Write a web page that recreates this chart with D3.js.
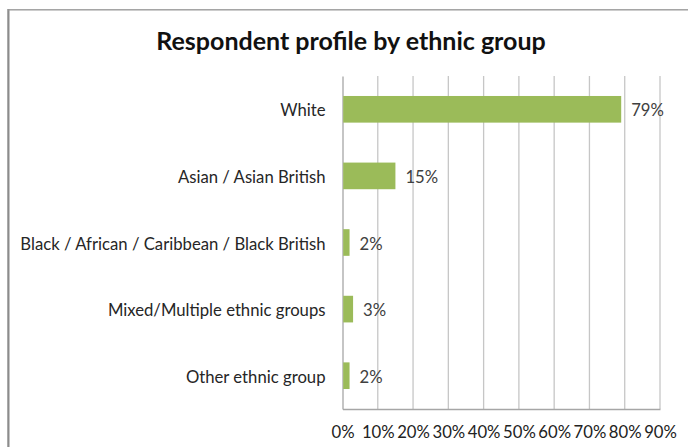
<!DOCTYPE html>
<html>
<head>
<meta charset="utf-8">
<script src="https://cdn.jsdelivr.net/npm/d3@7"></script>
<style>
  html, body { margin: 0; padding: 0; background: #fff; }
  svg { display: block; font-family: Lato, "Open Sans", sans-serif; }
</style>
</head>
<body>
<svg id="chart" width="688" height="447"></svg>
<script>
// Respondent profile by ethnic group (share of respondents, %)
const categories = [
  "White",
  "Asian / Asian British",
  "Black / African / Caribbean / Black British",
  "Mixed/Multiple ethnic groups",
  "Other ethnic group"
];
const values = [79, 15, 2, 3, 2];
const tickValues = [0, 10, 20, 30, 40, 50, 60, 70, 80, 90];
const title = "Respondent profile by ethnic group";

const svg = d3.select("#chart");
const W = 688, H = 447;
const plot = { left: 342.5, right: 660, top: 76, bottom: 409 };
const labelSize = 16.7;

// chart frame
svg.append("rect").attr("x", 7.5).attr("y", 9.5).attr("width", W + 10).attr("height", H + 10)
  .attr("fill", "#fff").attr("stroke", "#c8c8c8").attr("stroke-width", 1);
svg.append("line").attr("x1", 8.5).attr("x2", 8.5).attr("y1", 9).attr("y2", H)
  .attr("stroke", "#8c8c8c").attr("stroke-width", 2);
svg.append("line").attr("x1", 8).attr("x2", W).attr("y1", 9.8).attr("y2", 9.8)
  .attr("stroke", "#9a9a9a").attr("stroke-width", 1.2);

svg.append("text")
  .attr("x", 351).attr("y", 50)
  .attr("text-anchor", "middle")
  .attr("font-size", 25).attr("font-weight", "bold").attr("fill", "#111")
  .text(title);

const x = d3.scaleLinear().domain([0, 90]).range([plot.left, plot.right]);
const y = d3.scaleBand().domain(categories).range([plot.top, plot.bottom]).paddingInner(0.6).paddingOuter(0.3);

// vertical gridlines
svg.append("g")
  .selectAll("line").data(tickValues.slice(1)).join("line")
  .attr("x1", d => x(d)).attr("x2", d => x(d))
  .attr("y1", plot.top).attr("y2", plot.bottom)
  .attr("stroke", "#c6c6c6").attr("stroke-width", 1.3);

// x axis
const xAxis = svg.append("g")
  .attr("transform", `translate(0,${plot.bottom})`)
  .call(d3.axisBottom(x).tickValues(tickValues).tickFormat(d => d + "%").tickSize(0).tickPadding(17));
xAxis.select(".domain").attr("stroke", "#a6a6a6").attr("stroke-width", 1.3);
xAxis.selectAll("text").attr("font-size", labelSize).attr("fill", "#222").attr("font-family", "Lato, sans-serif");

// y axis
const yAxis = svg.append("g")
  .attr("transform", `translate(${plot.left},0)`)
  .call(d3.axisLeft(y).tickSize(0).tickPadding(17));
yAxis.select(".domain").attr("stroke", "#a6a6a6").attr("stroke-width", 1.3);
yAxis.selectAll("text").attr("font-size", labelSize).attr("fill", "#262626")
  .attr("font-family", "Lato, sans-serif").attr("dy", "0.42em");

// bars
svg.append("g")
  .selectAll("rect").data(categories).join("rect")
  .attr("x", x(0) + 0.7)
  .attr("y", d => y(d))
  .attr("width", (d, i) => x(values[i]) - x(0) - 0.7)
  .attr("height", y.bandwidth())
  .attr("fill", "#9bbb59");

// value labels
svg.append("g")
  .selectAll("text").data(categories).join("text")
  .attr("x", (d, i) => x(values[i]) + 10)
  .attr("y", d => y(d) + y.bandwidth() / 2)
  .attr("dy", "0.42em")
  .attr("font-size", labelSize).attr("fill", "#404040")
  .text((d, i) => values[i] + "%");
</script>
</body>
</html>
